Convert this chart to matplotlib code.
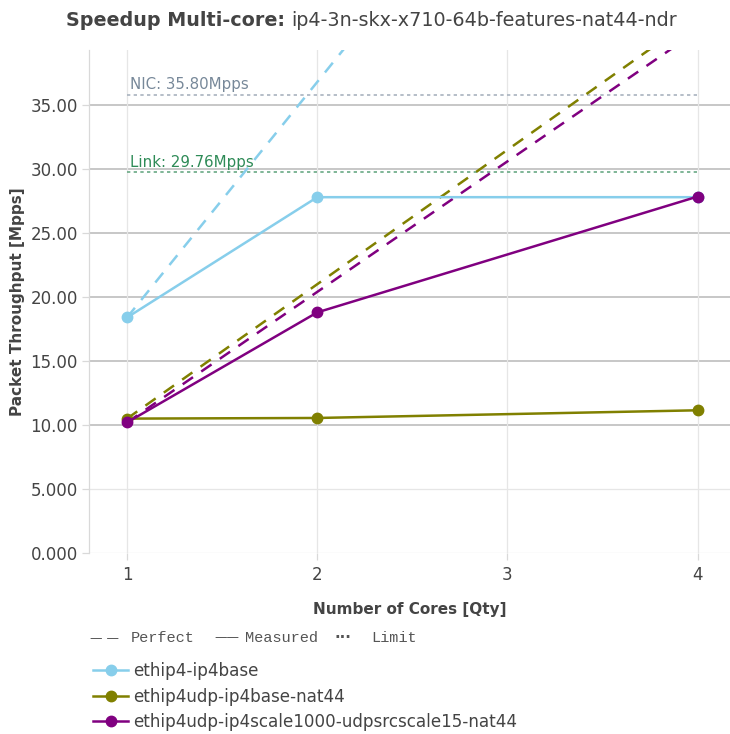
import matplotlib
matplotlib.use("Agg")
import matplotlib.pyplot as plt
import numpy as np

cores = [1, 2, 4]
series_names = ["ethip4-ip4base", "ethip4udp-ip4base-nat44",
                "ethip4udp-ip4scale1000-udpsrcscale15-nat44"]
series_vals = {
    "ethip4-ip4base": [18.4, 27.8, 27.8],
    "ethip4udp-ip4base-nat44": [10.5, 10.55, 11.15],
    "ethip4udp-ip4scale1000-udpsrcscale15-nat44": [10.2, 18.8, 27.85],
}
colors = {"ethip4-ip4base": "#87CEEB",
          "ethip4udp-ip4base-nat44": "#808000",
          "ethip4udp-ip4scale1000-udpsrcscale15-nat44": "#800080"}
nic_limit = 35.80
link_limit = 29.76
yticks = [0, 5, 10, 15, 20, 25, 30, 35]
ytick_labels = ["0.000", "5.000", "10.00", "15.00", "20.00", "25.00", "30.00", "35.00"]
xticks = [1, 2, 3, 4]

fig = plt.figure(figsize=(7.30, 7.34), dpi=100)
ax = fig.add_axes([89/730, 1-553/734, 1-89/730, (553-50)/734])
xmin, xmax = 0.8, 4.17
ymin, ymax = 0, 39.3
ax.set_xlim(xmin, xmax)
ax.set_ylim(ymin, ymax)

# grid
for y in yticks:
    c = "#bdbdbd" if y >= 10 else "#e6e6e6"
    lw = 1.2 if y >= 10 else 0.9
    ax.axhline(y, color=c, lw=lw, zorder=0)
for x in xticks:
    ax.axvline(x, color="#e6e6e6", lw=0.9, zorder=0)

# limits
ax.plot([1, 4], [nic_limit, nic_limit], color="#a9b3bf", lw=1.2, ls=(0, (2, 2)), zorder=1)
ax.plot([1, 4], [link_limit, link_limit], color="#6aa985", lw=1.2, ls=(0, (2, 2)), zorder=1)
ax.text(1.015, nic_limit + 0.2, f"NIC: {nic_limit:.2f}Mpps", color="#778899", fontsize=10.8, va="bottom")
ax.text(1.015, link_limit + 0.2, f"Link: {link_limit:.2f}Mpps", color="#2E8B57", fontsize=10.8, va="bottom")

# perfect lines
xp = np.array([1, 4])
for name in series_names:
    base = series_vals[name][0]
    ax.plot(xp, base * xp, color=colors[name], lw=1.8, ls=(0, (5, 4)), zorder=2)

handles = []
for name in series_names:
    h, = ax.plot(cores, series_vals[name], color=colors[name], lw=1.8, marker="o",
                 markersize=7.5, zorder=3, label=name)
    handles.append(h)

for s in ["top", "right", "bottom"]:
    ax.spines[s].set_visible(False)
ax.spines["left"].set_color("#d9d9d9")
ax.spines["left"].set_linewidth(0.9)

ax.set_yticks(yticks)
ax.set_yticklabels(ytick_labels)
ax.set_xticks(xticks)
ax.set_xticklabels([str(x) for x in xticks])
ax.tick_params(axis="y", colors="#444444", labelsize=12, length=5, width=0.9, color="#d9d9d9", pad=3)
ax.tick_params(axis="x", colors="#444444", labelsize=12, length=5, width=0.9, color="#d9d9d9", pad=4)

ax.set_xlabel("Number of Cores [Qty]", fontsize=11, fontweight="bold", color="#444444", labelpad=13)
ax.set_ylabel("Packet Throughput [Mpps]", fontsize=11, fontweight="bold", color="#444444", labelpad=4)

ty = 1 - 20/734
t1 = fig.text(0.5, ty, "Speedup Multi-core: ", fontsize=13.8, fontweight="bold", color="#444444",
              ha="left", va="center")
t2 = fig.text(0, ty, "ip4-3n-skx-x710-64b-features-nat44-ndr", fontsize=13.8, color="#444444",
              ha="left", va="center")
fig.canvas.draw()
r = fig.canvas.get_renderer()
bb = t1.get_window_extent(r)
left = 66
t1.set_position((left / fig.bbox.width, ty))
t2.set_position(((left + bb.width) / fig.bbox.width, ty))

# style legend
ly = 1 - 638/734
fig.text(90/730, ly, "\u2014 \u2014", color="#555555", fontsize=9, va="center", ha="left")
fig.text(131/730, ly, "Perfect", family="Liberation Mono", color="#555555", fontsize=11, va="center")
fig.text(214/730, ly, "\u2014\u2014", color="#555555", fontsize=9, va="center")
fig.text(245/730, ly, "Measured", family="Liberation Mono", color="#555555", fontsize=11, va="center")
fig.text(334/730, 1-637/734, "\u00b7\u00b7\u00b7", color="#555555", fontsize=11, va="center", fontweight="bold")
fig.text(371/730, ly, "Limit", family="Liberation Mono", color="#555555", fontsize=11, va="center")

leg = fig.legend(handles=handles, labels=series_names, loc="upper left",
                 bbox_to_anchor=(93/730, 1-662/734), frameon=False, fontsize=12.1,
                 handlelength=2.1, handletextpad=0.3, labelspacing=0.45, borderaxespad=0,
                 borderpad=0)
for t in leg.get_texts():
    t.set_color("#444444")

fig.savefig("out.png", dpi=100)
